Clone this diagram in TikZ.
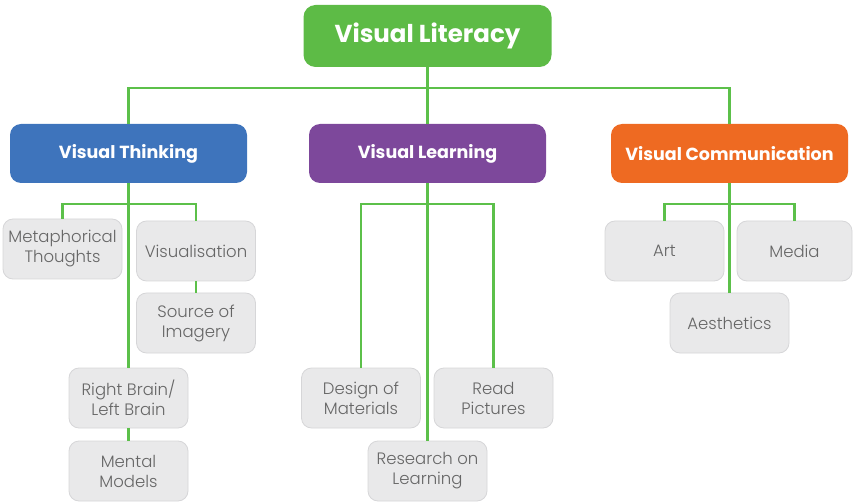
\documentclass[tikz,border=0pt]{standalone}
\usepackage{fontspec}
\setmainfont{Poppins}
\IfFontExistsTF{Poppins Light}{\newfontfamily\leaffont{Poppins Light}}{\newfontfamily\leaffont{Poppins}}
\usepackage{tikz}
\definecolor{litgreen}{HTML}{5DBB46}
\definecolor{thinkblue}{HTML}{3E74BC}
\definecolor{learnpurple}{HTML}{7D489B}
\definecolor{commorange}{HTML}{EE6A22}
\definecolor{leafgray}{HTML}{E9E9EA}
\definecolor{leafedge}{HTML}{D6D6D8}
\definecolor{leaftext}{HTML}{666666}
\definecolor{linkgreen}{HTML}{5CC04A}

\begin{document}
\begin{tikzpicture}[x=1pt, y=-1pt, every node/.style={align=center, inner sep=0pt},
	head/.style={rectangle, rounded corners=11pt, minimum width=237pt, minimum height=59pt, text=white, font=\fontsize{17.5}{20}\selectfont\bfseries},
	leaf/.style={rectangle, rounded corners=10pt, fill=leafgray, draw=leafedge, line width=0.8pt, minimum width=119pt, minimum height=60pt, text=leaftext, font=\leaffont\fontsize{16.5}{20}\selectfont},
	link/.style={draw=linkgreen, line width=2.5pt}]
			\useasboundingbox (0,0) rectangle (853,502);
			\node[head, fill=litgreen, minimum width=248pt, minimum height=62pt, rounded corners=12pt, font=\fontsize{24.5}{28}\selectfont\bfseries](lit) at (427.5,36) {Visual Literacy};
			\node[head, fill=thinkblue](think) at (128.5,153.5) {Visual Thinking};
			\node[head, fill=learnpurple](learn) at (427.5,153.5) {Visual Learning};
			\node[head, fill=commorange](comm) at (729.5,153.5) {Visual Communication};
			\node[leaf](meta) at (62.5,249) {Metaphorical\\Thoughts};
			\node[leaf](visu) at (196,251) {Visualisation};
			\node[leaf](source) at (196,323) {Source of\\Imagery};
			\node[leaf](brain) at (128.5,398) {Right Brain/\\Left Brain};
			\node[leaf](mental) at (128.5,471) {Mental\\Models};
			\node[leaf](design) at (361,398) {Design of\\Materials};
			\node[leaf](read) at (493.5,398) {Read\\Pictures};
			\node[leaf](research) at (427.5,471) {Research on\\Learning};
			\node[leaf](art) at (664.5,251) {Art};
			\node[leaf, minimum width=115pt](media) at (794.5,251) {Media};
			\node[leaf](aes) at (729.5,323) {Aesthetics};
			\coordinate(litfork) at (427.5,88);
			\coordinate(thinkfork) at (128.5,204);
			\coordinate(learnfork) at (427.5,204);
			\coordinate(commfork) at (729.5,204);
			\draw[link](lit) -- (learn);
			\draw[link](think.north) |- (litfork) -| (comm.north);
			\draw[link](think) -- (brain);
			\draw[link](meta.north) |- (thinkfork) -| (visu.north);
			\draw[link](visu) -- (source);
			\draw[link](brain) -- (mental);
			\draw[link](learn) -- (research);
			\draw[link](design.north) |- (learnfork) -| (read.north);
			\draw[link](comm) -- (aes);
			\draw[link](art.north) |- (commfork) -| (media.north);
		\end{tikzpicture}
\end{document}
